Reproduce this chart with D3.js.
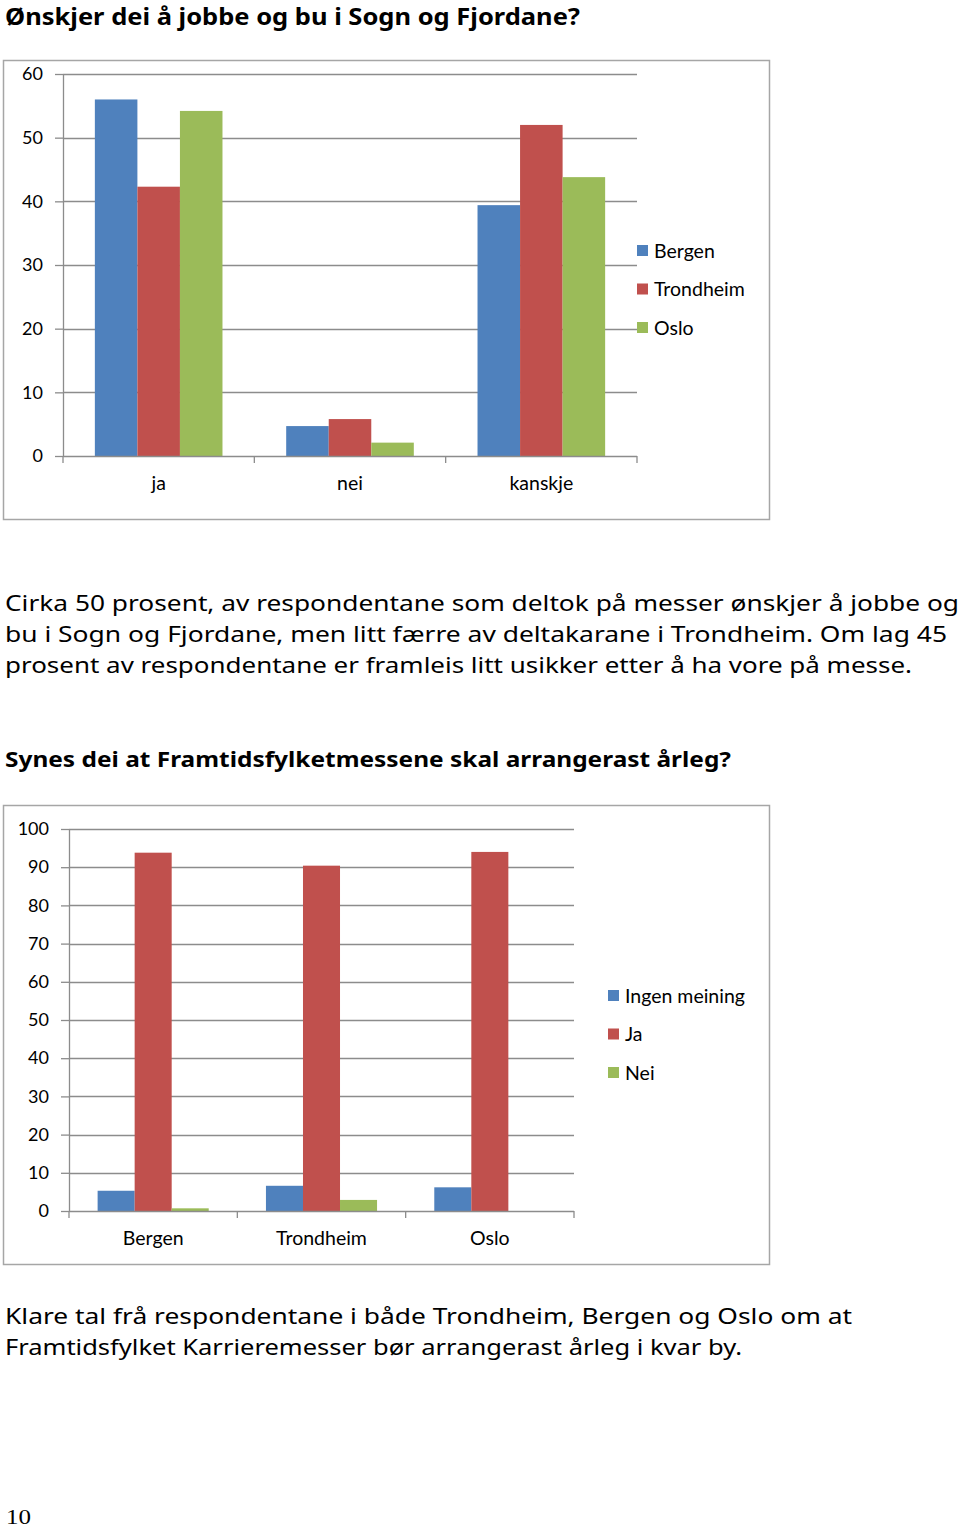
<!DOCTYPE html>
<html>
<head>
<meta charset="utf-8">
<script src="https://cdn.jsdelivr.net/npm/d3@7"></script>
<style>
  body { margin: 0; background: #fff; }
  svg { display: block; }
</style>
</head>
<body>
<div id="page"></div>
<script>
// chart 1 data: Ønskjer dei å jobbe og bu i Sogn og Fjordane?
const answers1 = ['ja', 'nei', 'kanskje'];
const cities1 = ['Bergen', 'Trondheim', 'Oslo'];
const bergen1 = [56.0, 4.7, 39.4];
const trondheim1 = [42.3, 5.8, 52.0];
const oslo1 = [54.2, 2.1, 43.8];
const ticks1 = [0, 10, 20, 30, 40, 50, 60];

// chart 2 data: Synes dei at Framtidsfylketmessene skal arrangerast årleg?
const cities2 = ['Bergen', 'Trondheim', 'Oslo'];
const answers2 = ['Ingen meining', 'Ja', 'Nei'];
const ingen2 = [5.3, 6.6, 6.2];
const ja2 = [93.8, 90.4, 94.0];
const nei2 = [0.7, 2.9, 0];
const ticks2 = [0, 10, 20, 30, 40, 50, 60, 70, 80, 90, 100];

const colors = ['#4f81bd', '#c0504d', '#9bbb59'];
const gridCol = '#8c8c8c';
const labelFont = 'Lato, "Open Sans", sans-serif';
const bodyFont = '"Noto Sans", "DejaVu Sans", sans-serif';

const svg = d3.select('#page').append('svg')
  .attr('width', 960).attr('height', 1528);
svg.append('rect').attr('width', 960).attr('height', 1528).attr('fill', '#fff');

// text lines, stretched to the width they have in the picture
const txt = (s, x, y, w, size, weight, fam) => {
  svg.append('text')
    .attr('x', x).attr('y', y)
    .attr('textLength', w).attr('lengthAdjust', 'spacingAndGlyphs')
    .style('font-family', fam || bodyFont)
    .style('font-size', size + 'px')
    .style('font-weight', weight || 'normal')
    .attr('fill', '#000')
    .text(s);
};

txt('Ønskjer dei å jobbe og bu i Sogn og Fjordane?', 5, 25, 575, 23, 'bold');
txt('Cirka 50 prosent, av respondentane som deltok på messer ønskjer å jobbe og', 5, 611, 954, 22);
txt('bu i Sogn og Fjordane, men litt færre av deltakarane i Trondheim. Om lag 45', 5, 642, 942, 22);
txt('prosent av respondentane er framleis litt usikker etter å ha vore på messe.', 5, 673, 907, 22);
txt('Synes dei at Framtidsfylketmessene skal arrangerast årleg?', 5, 767, 726, 22, 'bold');
txt('Klare tal frå respondentane i både Trondheim, Bergen og Oslo om at', 5, 1324, 847, 22);
txt('Framtidsfylket Karrieremesser bør arrangerast årleg i kvar by.', 5, 1355, 737, 22);
txt('10', 6, 1524, 25, 22, 'normal', '"Liberation Serif", serif');

const chart = (o) => {
  const g = svg.append('g');

  g.append('rect')
    .attr('x', o.frame[0] + 0.5).attr('y', o.frame[1] + 0.5)
    .attr('width', o.frame[2]).attr('height', o.frame[3])
    .attr('fill', '#fff').attr('stroke', '#a6a6a6').attr('stroke-width', 1.5);

  const y = d3.scaleLinear().domain([0, o.max]).range([o.y0, o.y1]);
  const x = d3.scaleBand().domain(o.cats).range([o.x0, o.x1])
    .paddingInner(o.pad).paddingOuter(o.pad / 2);
  const xs = d3.scaleBand().domain(o.series).range([0, x.bandwidth()]);

  // gridlines
  g.append('g').selectAll('line').data(o.ticks.filter(d => d > 0)).join('line')
    .attr('x1', o.x0).attr('x2', o.x1)
    .attr('y1', d => Math.round(y(d)) + 0.5).attr('y2', d => Math.round(y(d)) + 0.5)
    .attr('stroke', gridCol).attr('stroke-width', 1.3);

  const yAxis = g.append('g')
    .attr('transform', `translate(${o.x0},0)`)
    .call(d3.axisLeft(y).tickValues(o.ticks).tickSize(8).tickSizeOuter(0).tickPadding(12));
  yAxis.select('.domain').attr('stroke', gridCol).attr('stroke-width', 1.3);
  yAxis.selectAll('.tick line').attr('stroke', gridCol).attr('stroke-width', 1.3);
  yAxis.selectAll('.tick text')
    .style('font-family', labelFont).style('font-size', '18px').attr('fill', '#000');

  // bars
  o.series.forEach((s, si) => {
    g.append('g').selectAll('rect').data(o.values[si]).join('rect')
      .attr('x', (d, i) => x(o.cats[i]) + xs(s))
      .attr('y', d => y(d))
      .attr('width', xs.bandwidth())
      .attr('height', d => y(0) - y(d))
      .attr('fill', colors[si]);
  });

  // category axis
  const step = x.step();
  const bounds = d3.range(o.cats.length + 1).map(i => o.x0 + i * step);
  g.append('line')
    .attr('x1', o.x0).attr('x2', o.x1)
    .attr('y1', y(0) + 0.5).attr('y2', y(0) + 0.5)
    .attr('stroke', gridCol).attr('stroke-width', 1.3);
  g.append('g').selectAll('line').data(bounds).join('line')
    .attr('x1', d => d).attr('x2', d => d)
    .attr('y1', y(0)).attr('y2', y(0) + 7)
    .attr('stroke', gridCol).attr('stroke-width', 1.3);
  g.append('g').selectAll('text').data(o.cats).join('text')
    .attr('x', d => x(d) + x.bandwidth() / 2)
    .attr('y', y(0) + 34)
    .attr('text-anchor', 'middle')
    .style('font-family', labelFont).style('font-size', '19.5px')
    .text(d => d);

  // legend
  const lg = g.append('g').selectAll('g').data(o.series).join('g')
    .attr('transform', (d, i) => `translate(${o.legX},${o.legY + i * 38.5})`);
  lg.append('rect').attr('x', 0).attr('y', -6).attr('width', 11).attr('height', 11)
    .attr('fill', (d, i) => colors[i]);
  lg.append('text').attr('x', 17).attr('y', 6.5)
    .style('font-family', labelFont).style('font-size', '19.5px')
    .text(d => d);
};

chart({
  frame: [3, 60, 766, 459],
  x0: 63, x1: 637, y0: 456, y1: 74, max: 60,
  pad: 0.333,
  cats: answers1, series: cities1,
  values: [bergen1, trondheim1, oslo1],
  ticks: ticks1,
  legX: 637, legY: 251
});

chart({
  frame: [3, 805, 766, 459],
  x0: 69, x1: 574, y0: 1211, y1: 829, max: 100,
  pad: 0.34,
  cats: cities2, series: answers2,
  values: [ingen2, ja2, nei2],
  ticks: ticks2,
  legX: 608, legY: 996
});
</script>
</body>
</html>
